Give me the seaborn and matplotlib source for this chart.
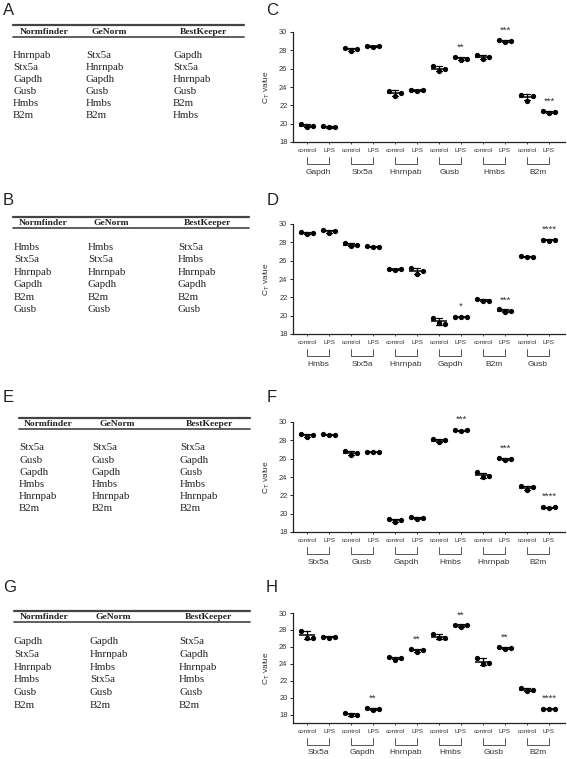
import numpy as np
import pandas as pd
import matplotlib
matplotlib.use('Agg')
import matplotlib.pyplot as plt
import seaborn as sns
from matplotlib.lines import Line2D

# ---------------- data ----------------
table_headers = ['Normfinder', 'GeNorm', 'BestKeeper']

tab_A_normfinder = ['Hnrnpab', 'Stx5a', 'Gapdh', 'Gusb', 'Hmbs', 'B2m']
tab_A_genorm = ['Stx5a', 'Hnrnpab', 'Gapdh', 'Gusb', 'Hmbs', 'B2m']
tab_A_bestkeeper = ['Gapdh', 'Stx5a', 'Hnrnpab', 'Gusb', 'B2m', 'Hmbs']

tab_B_normfinder = ['Hmbs', 'Stx5a', 'Hnrnpab', 'Gapdh', 'B2m', 'Gusb']
tab_B_genorm = ['Hmbs', 'Stx5a', 'Hnrnpab', 'Gapdh', 'B2m', 'Gusb']
tab_B_bestkeeper = ['Stx5a', 'Hmbs', 'Hnrnpab', 'Gapdh', 'B2m', 'Gusb']

tab_E_normfinder = ['Stx5a', 'Gusb', 'Gapdh', 'Hmbs', 'Hnrnpab', 'B2m']
tab_E_genorm = ['Stx5a', 'Gusb', 'Gapdh', 'Hmbs', 'Hnrnpab', 'B2m']
tab_E_bestkeeper = ['Stx5a', 'Gapdh', 'Gusb', 'Hmbs', 'Hnrnpab', 'B2m']

tab_G_normfinder = ['Gapdh', 'Stx5a', 'Hnrnpab', 'Hmbs', 'Gusb', 'B2m']
tab_G_genorm = ['Gapdh', 'Hnrnpab', 'Hmbs', 'Stx5a', 'Gusb', 'B2m']
tab_G_bestkeeper = ['Stx5a', 'Gapdh', 'Hnrnpab', 'Hmbs', 'Gusb', 'B2m']

conditions = ['control', 'LPS']

C_genes = ['Gapdh', 'Stx5a', 'Hnrnpab', 'Gusb', 'Hmbs', 'B2m']
C_control = [[20.0, 19.6, 19.8], [28.3, 27.9, 28.1], [23.6, 23.0, 23.4],
             [26.3, 25.7, 26.0], [27.5, 27.1, 27.3], [23.1, 22.5, 23.0]]
C_lps = [[19.7, 19.6, 19.6], [28.5, 28.4, 28.5], [23.7, 23.6, 23.7],
         [27.3, 27.0, 27.1], [29.1, 28.9, 29.0], [21.4, 21.2, 21.3]]
C_stars = ['', '', '', '**', '***', '***']

D_genes = ['Hmbs', 'Stx5a', 'Hnrnpab', 'Gapdh', 'B2m', 'Gusb']
D_control = [[29.1, 28.9, 29.0], [27.9, 27.6, 27.7], [25.1, 25.0, 25.1],
             [19.8, 19.2, 19.1], [21.8, 21.6, 21.6], [26.5, 26.4, 26.4]]
D_lps = [[29.4, 29.0, 29.2], [27.6, 27.5, 27.5], [25.2, 24.6, 24.9],
         [19.9, 19.9, 19.9], [20.7, 20.4, 20.5], [28.3, 28.2, 28.3]]
D_stars = ['', '', '', '*', '***', '****']

F_genes = ['Stx5a', 'Gusb', 'Gapdh', 'Hmbs', 'Hnrnpab', 'B2m']
F_control = [[28.7, 28.4, 28.6], [26.8, 26.4, 26.6], [19.4, 19.1, 19.3],
             [28.1, 27.8, 28.0], [24.5, 24.0, 24.1], [23.0, 22.6, 22.9]]
F_lps = [[28.7, 28.6, 28.6], [26.7, 26.7, 26.7], [19.6, 19.4, 19.5],
         [29.1, 29.0, 29.1], [26.1, 25.9, 26.0], [20.7, 20.6, 20.7]]
F_stars = ['', '', '', '***', '***', '****']

H_genes = ['Stx5a', 'Gapdh', 'Hnrnpab', 'Hmbs', 'Gusb', 'B2m']
H_control = [[27.9, 27.1, 27.1], [18.2, 17.9, 18.0], [24.8, 24.5, 24.7],
             [27.5, 27.0, 27.1], [24.7, 24.0, 24.1], [21.1, 20.8, 20.9]]
H_lps = [[27.2, 27.1, 27.2], [18.8, 18.5, 18.7], [25.8, 25.4, 25.6],
         [28.6, 28.3, 28.6], [26.0, 25.8, 25.9], [18.7, 18.7, 18.7]]
H_stars = ['', '**', '**', '**', '**', '****']

y_ticks = [18, 20, 22, 24, 26, 28, 30]

# ---------------- style ----------------
sns.set_theme(style='ticks')
plt.rcParams['font.family'] = ['Liberation Sans', 'DejaVu Sans']
TXT = '#333333'
LINE = '#222222'

W, H = 567, 759
fig = plt.figure(figsize=(W / 100, H / 100), dpi=100)


def fx(x):
    return x / W


def fy(y):
    return 1 - y / H


# ---------------- tables ----------------
def draw_table(x0, x1, ytop, ybot, head_xs, col_xs, row_y0, row_dy, cols):
    fig.add_artist(Line2D([fx(x0), fx(x1)], [fy(ytop), fy(ytop)], color='#444444', lw=1.6))
    fig.add_artist(Line2D([fx(x0), fx(x1)], [fy(ybot), fy(ybot)], color='#444444', lw=1.2))
    hy = (ytop + ybot) / 2 + 0.5
    for hx, h in zip(head_xs, table_headers):
        fig.text(fx(hx), fy(hy), h, family=['Liberation Serif', 'DejaVu Serif'],
                 fontweight='bold', fontsize=6.8, color='#222222', ha='left', va='center')
    for cx, col in zip(col_xs, cols):
        for i, name in enumerate(col):
            fig.text(fx(cx), fy(row_y0 + i * row_dy), name,
                     family=['Liberation Serif', 'DejaVu Serif'],
                     fontsize=7.8, color='#222222', ha='left', va='center')


draw_table(13, 244, 25, 37, [20, 92, 180], [13, 86, 173], 55, 12.2,
           [tab_A_normfinder, tab_A_genorm, tab_A_bestkeeper])
draw_table(13, 249, 217, 228, [19, 94, 184], [14, 88, 178], 247, 12.6,
           [tab_B_normfinder, tab_B_genorm, tab_B_bestkeeper])
draw_table(19, 250, 418, 429, [24, 99, 186], [19, 92, 180], 448, 12.1,
           [tab_E_normfinder, tab_E_genorm, tab_E_bestkeeper])
draw_table(14, 250, 611, 622, [20, 95, 185], [14, 90, 179], 642, 12.6,
           [tab_G_normfinder, tab_G_genorm, tab_G_bestkeeper])

# panel letters
for letter, (lx, ly) in {'A': (3, 3), 'C': (266, 3), 'B': (3, 193), 'D': (267, 193),
                         'E': (3, 390), 'F': (267, 390), 'G': (3, 580), 'H': (266, 580)}.items():
    fig.text(fx(lx), fy(ly), letter, fontsize=12, color='#222222', ha='left', va='top')


# ---------------- charts ----------------
def draw_chart(top_px, genes, ctrl, lps, stars, ymin):
    left, right, bottom = 293, 565, top_px + 110
    ax = fig.add_axes([fx(left), fy(bottom), (right - left) / W, 110 / H])
    rows = []
    order = []
    for g, cv, lv in zip(genes, ctrl, lps):
        for cond, vals in zip(conditions, [cv, lv]):
            key = f'{g} {cond}'
            order.append(key)
            for r, v in enumerate(vals):
                rows.append({'key': key, 'rep': f'r{r}', 'value': v})
    df = pd.DataFrame(rows)
    sns.stripplot(data=df, x='key', y='value', order=order, hue='rep',
                  hue_order=['r0', 'r1', 'r2'], dodge=True, jitter=False,
                  palette=['black'] * 3, size=3.8, legend=False, ax=ax, zorder=3)
    sns.pointplot(data=df, x='key', y='value', order=order, errorbar='sd',
                  color='black', marker='_', markersize=11, markeredgewidth=1.1,
                  linestyle='none', capsize=0.3, err_kws={'linewidth': 0.9}, ax=ax)
    ax.set_xlim(-0.64, 11.73)
    ax.set_ylim(ymin, 30)
    ax.set_yticks(y_ticks)
    ax.set_yticklabels([str(t) for t in y_ticks], fontsize=5.4, color=TXT)
    ax.set_xticks(range(len(order)))
    ax.set_xticklabels(conditions * len(genes), fontsize=4.6, color=TXT)
    ax.tick_params(axis='y', length=2.5, width=0.7, pad=1.5, color=LINE)
    ax.tick_params(axis='x', length=1.5, width=0.6, pad=2.5, color=LINE)
    ax.set_xlabel('')
    ax.set_ylabel(r'C$_\mathrm{T}$ value', fontsize=6, color=TXT)
    ax.yaxis.set_label_coords(-0.077, 0.5)
    for s in ['top', 'right']:
        ax.spines[s].set_visible(False)
    for s in ['left', 'bottom']:
        ax.spines[s].set_color(LINE)
        ax.spines[s].set_linewidth(0.9)
    ax.set_facecolor('none')
    tr = ax.get_xaxis_transform()
    for i, g in enumerate(genes):
        x0, x1 = 2 * i, 2 * i + 1
        ax.plot([x0, x0, x1, x1], [-15 / 110, -22 / 110, -22 / 110, -15 / 110],
                transform=tr, clip_on=False, color='#555555', lw=0.7)
        ax.text(2 * i + 0.5, -30 / 110, g, transform=tr, ha='center', va='center',
                fontsize=6, color=TXT)
    for i, st in enumerate(stars):
        if st:
            m = float(np.mean(lps[i]))
            ax.annotate(st, xy=(2 * i + 1, m), xytext=(0, 6), textcoords='offset points',
                        ha='center', va='baseline', fontsize=6.8, color=TXT,
                        annotation_clip=False)
    return ax


draw_chart(32, C_genes, C_control, C_lps, C_stars, 18)
draw_chart(224, D_genes, D_control, D_lps, D_stars, 18)
draw_chart(422, F_genes, F_control, F_lps, F_stars, 18)
draw_chart(613, H_genes, H_control, H_lps, H_stars, 17)

fig.savefig('out.png', dpi=100, facecolor='white')
